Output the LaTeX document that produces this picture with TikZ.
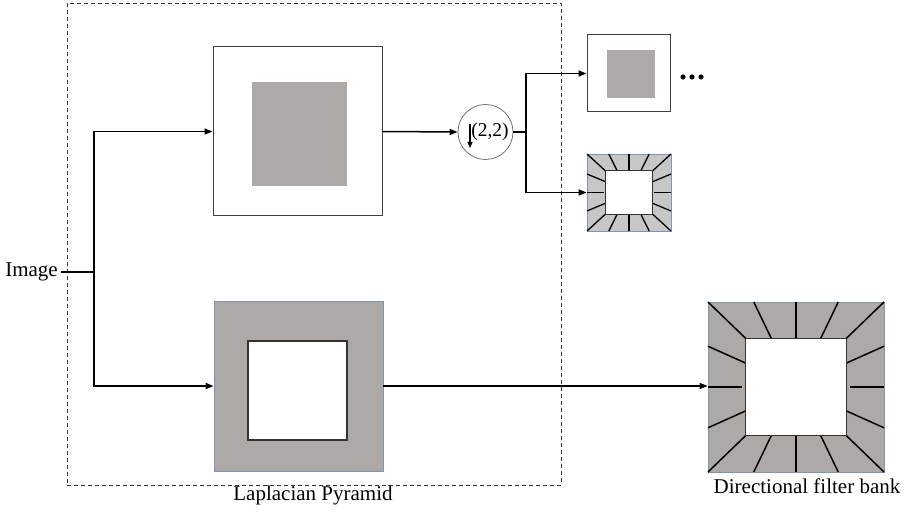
\documentclass[tikz,border=0pt]{standalone}
\usepackage{fontspec}
\setmainfont{Liberation Serif}
\usetikzlibrary{arrows.meta}

\definecolor{lpgray}{RGB}{173,169,167}
\definecolor{dfbgray}{RGB}{200,199,199}
\definecolor{edgeblue}{RGB}{128,150,176}

% Wedge lines of a directional filter bank, drawn in a unit square
% (outer edge at +-1); #1 is the half size of the white centre.
\newcommand{\fanlines}[1]{%
  \foreach \s in {1,-1}{%
    % top and bottom edges
    \draw[fan] (-1,\s) -- ({-#1},{\s*#1});
    \draw[fan] (-0.48,\s) -- (-0.28,{\s*#1});
    \draw[fan] (0,\s) -- (0,{\s*#1});
    \draw[fan] (0.48,\s) -- (0.28,{\s*#1});
    \draw[fan] (1,\s) -- ({#1},{\s*#1});
    % left and right edges
    \draw[fan] (\s,-0.48) -- ({\s*#1},-0.28);
    \draw[fan] (\s,0) -- ({\s*(#1+0.045)},0);
    \draw[fan] (\s,0.48) -- ({\s*#1},0.28);
  }%
  \draw[fill=white, draw=black!80, line width=1pt] ({-#1},{-#1}) rectangle ({#1},{#1});
}

\begin{document}
\begin{tikzpicture}[x=1pt, y=-1pt,
  txt/.style={font=\fontsize{21}{25}\selectfont, inner sep=0pt},
  wire/.style={line width=1.5pt},
  conn/.style={line width=1.5pt, -{Triangle[length=8pt,width=6pt]}},
  fan/.style={line width=1.5pt},
  framebox/.style={draw=black!75, line width=1pt, fill=white, inner sep=0pt},
  graybox/.style={fill=lpgray, inner sep=0pt},
]
\useasboundingbox (0,0) rectangle (905,513);

% Laplacian pyramid stage (dashed frame)
\node[draw=black!80, dashed, dash pattern=on 4pt off 3pt, line width=0.8pt,
      minimum width=494pt, minimum height=482pt, inner sep=0pt] (lpbox) at (314,244) {};
\node[txt] (lplabel) at (313,495) {Laplacian Pyramid};

% Input
\node[txt, anchor=east, inner xsep=3pt] (img) at (61,272) {Image};

% Low-pass branch
\node[framebox, minimum width=169pt, minimum height=169pt] (lp1) at (297.5,131.5) {};
\node[graybox, minimum width=95pt, minimum height=104pt] (lp1c) at (299.5,134) {};

% Band-pass branch
\node[graybox, draw=edgeblue, line width=0.8pt, minimum width=169pt, minimum height=170pt] (lp2) at (298.5,386) {};
\node[fill=white, draw=black!80, line width=1.2pt, minimum width=99pt, minimum height=99pt, inner sep=0pt] (lp2c) at (297.5,390.5) {};

% Downsampler
\node[circle, draw=black!55, line width=0.8pt, minimum size=55pt, inner sep=0pt] (ds) at (485.5,132) {};
\node[font=\fontsize{19.5}{22}\selectfont, inner sep=0pt] (dslabel) at (490,132) {(2,2)};
\coordinate (dstop) at (470,124);
\coordinate (dsbot) at (470,148);
\draw[line width=1.2pt, -{Triangle[length=6pt,width=5pt]}] (dstop) -- (dsbot);

% Next pyramid level
\node[framebox, minimum width=83pt, minimum height=77pt] (sub) at (628.5,73.5) {};
\node[graybox, minimum width=48pt, minimum height=48pt] (subc) at (631,74) {};
\foreach \x in {683,692,701} \fill (\x,77) circle (2.6pt);

% Small directional filter bank
\node[fill=dfbgray, draw=edgeblue, line width=0.8pt, minimum width=84pt, minimum height=77pt, inner sep=0pt] (dfbs) at (629,192.5) {};
\begin{scope}[shift={(dfbs.center)}, xscale=42, yscale=38.5, fan/.style={line width=1.3pt}]
  \fanlines{0.56}
\end{scope}

% Large directional filter bank
\node[fill=lpgray, draw=edgeblue, line width=0.8pt, minimum width=176pt, minimum height=170pt, inner sep=0pt] (dfbl) at (796,387) {};
\begin{scope}[shift={(dfbl.center)}, xscale=88, yscale=85]
  \fanlines{0.57}
\end{scope}
\node[txt] (dfblabel) at (807,486) {Directional filter bank};

% Connectors
\coordinate (split) at (94,272);
\draw[wire] (img.east) -- (split);
\draw[conn] (split) |- (lp1.west);
\draw[conn] (split) |- (lp2.west);
\draw[conn] (lp1.east) -- (ds.west);
\coordinate (fork) at (526,132);
\draw[wire] (ds.east) -- (fork);
\draw[conn] (fork) |- (sub.west);
\draw[conn] (fork) |- (dfbs.west);
\draw[conn] (lp2.east) -- (lp2.east -| dfbl.west);
\end{tikzpicture}
\end{document}
